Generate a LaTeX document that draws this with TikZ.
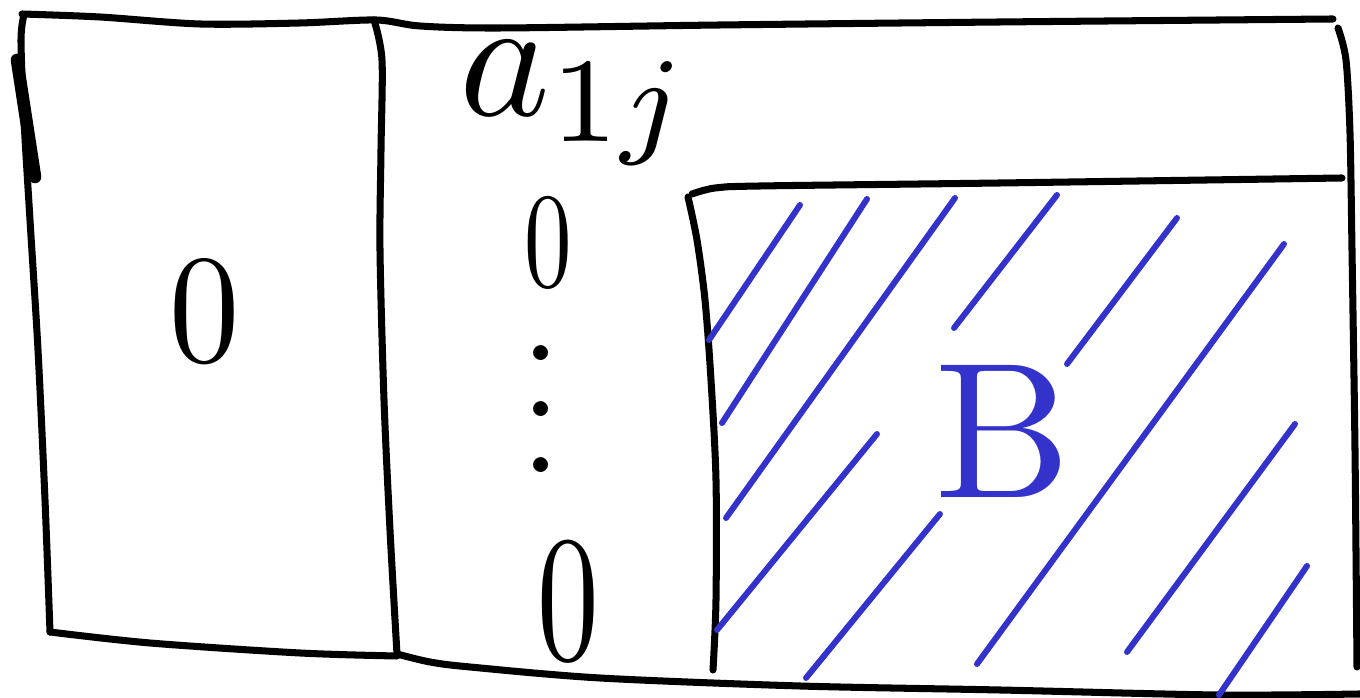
\documentclass[tikz,border=0pt]{standalone}
\usepackage{tikz}
\usetikzlibrary{positioning}
\usepackage{amsmath}
\definecolor{penblue}{RGB}{51,51,204}

\begin{document}
\begin{tikzpicture}[x=0.01cm, y=-0.01cm,
  ink/.style={draw=black, line width=2pt, line cap=round, line join=round},
  heavyink/.style={draw=black, line width=3.6pt, line cap=round},
  hatch/.style={draw=penblue, line width=1.7pt, line cap=round, line join=round},
  entry/.style={inner sep=0pt, text=black},
  bentry/.style={inner sep=0pt, text=penblue}]

\useasboundingbox (0,0) rectangle (1360,698);

% outer frame
\draw[ink] plot[smooth] coordinates {(22,14) (100,17) (200,24) (300,23) (376,20) (420,26) (500,28) (720,25) (1000,22) (1333,19)};
\draw[ink] plot[smooth] coordinates {(24,15) (21,40) (24,120) (30,220) (38,350) (45,500) (50,632)};
\draw[heavyink] (17,60) -- (35,177);
\draw[ink] plot[smooth] coordinates {(1338,28) (1346,60) (1350,133) (1352,250) (1355,450) (1357,667)};
\draw[ink] plot[smooth] coordinates {(50,632) (150,643) (300,653) (397,656)};
\draw[ink] plot[smooth] coordinates {(397,654) (430,662) (470,667) (600,678) (800,686) (1000,690) (1218,695) (1360,694)};

% first column divider
\draw[ink] plot[smooth] coordinates {(374,20) (382,60) (381,150) (380,250) (384,400) (390,530) (397,654)};

% block B
\draw[ink] plot[smooth] coordinates {(692,194) (715,188) (760,186) (1000,183) (1342,178)};
\draw[ink] plot[smooth] coordinates {(688,197) (697,240) (705,300) (711,380) (716,480) (716,600) (713,670)};

% hatching
\foreach \xa/\ya/\xb/\yb in {800/205/709/340, 867/199/722/423, 955/198/726/518,
    1057/195/954/328, 877/434/717/630, 1177/218/1067/364, 1284/244/977/664,
    940/514/806/678, 1295/424/1127/652, 1307/566/1219/695}
  \draw[hatch] (\xa,\ya) -- (\xb,\yb);

% entries
\node[entry, xscale=4.0, yscale=4.4] (zeroleft) at (205,312) {0};
\node[entry, scale=4.9, anchor=base west] (aonej) at (456,116) {$a_{1j}$};
\node[entry, xscale=2.7, yscale=3.85] (zerotop) at (548,243) {0};
\node[entry, scale=4.0, anchor=base, text height=9.4pt, text depth=0pt] (coldots) at (541,473) {$\vdots$};
\node[entry, xscale=3.5, yscale=5.1] (zerobot) at (568,602) {0};
\node[bentry, scale=5.5] (blockB) at (1003,431) {B};

\end{tikzpicture}
\end{document}
